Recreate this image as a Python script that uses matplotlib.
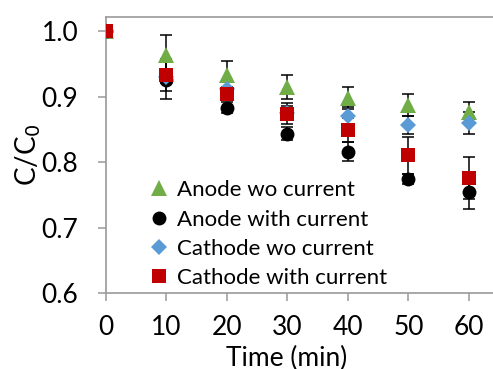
import matplotlib
matplotlib.use("Agg")
import matplotlib.pyplot as plt

plt.rcParams["font.family"] = ["Lato", "DejaVu Sans"]

time_min = [0, 10, 20, 30, 40, 50, 60]

anode_wo = [1.0, 0.963, 0.933, 0.915, 0.898, 0.887, 0.876]
anode_wo_err = [0, 0.031, 0.022, 0.018, 0.017, 0.017, 0.016]

anode_with = [1.0, 0.925, 0.883, 0.843, 0.816, 0.774, 0.755]
anode_with_err = [0, 0.028, 0.008, 0.010, 0.014, 0.008, 0.026]

cathode_wo = [1.0, 0.930, 0.912, 0.875, 0.871, 0.857, 0.860]
cathode_wo_err = [0, 0.010, 0.010, 0.010, 0.013, 0.014, 0.017]

cathode_with = [1.0, 0.933, 0.904, 0.874, 0.849, 0.810, 0.776]
cathode_with_err = [0, 0.025, 0.010, 0.016, 0.019, 0.028, 0.032]

series = [
    ("Anode wo current", anode_wo, anode_wo_err, "^", "#70AD47", 11),
    ("Anode with current", anode_with, anode_with_err, "o", "black", 10),
    ("Cathode wo current", cathode_wo, cathode_wo_err, "D", "#5B9BD5", 8),
    ("Cathode with current", cathode_with, cathode_with_err, "s", "#C00000", 10),
]

fig = plt.figure(figsize=(4.93, 3.69), dpi=100)
ax = fig.add_axes([106 / 493, 1 - 293 / 369, 1 - 106 / 493, (293 - 17) / 369])

for label, y, err, mk, col, ms in series:
    ax.errorbar(time_min, y, yerr=err, fmt="none", ecolor="black",
                elinewidth=1.1, capsize=4.3, capthick=1.1, zorder=2)
    ax.plot(time_min, y, linestyle="none", marker=mk, color=col,
            markersize=ms, markeredgewidth=0, label=label, zorder=3)

ax.set_xlim(0, 64)
ax.set_ylim(0.6, 1.0215)
ax.set_xticks(time_min)
ax.set_yticks([0.6, 0.7, 0.8, 0.9, 1.0])
ax.set_yticklabels(["0.6", "0.7", "0.8", "0.9", "1.0"])

for s in ["left", "bottom", "top"]:
    ax.spines[s].set_color("#999999")
    ax.spines[s].set_linewidth(1.2)
ax.spines["right"].set_visible(False)
ax.tick_params(axis="both", direction="out", length=6, width=1.1,
               color="#999999", labelsize=19, labelcolor="black")
ax.tick_params(axis="x", pad=10)
ax.tick_params(axis="y", pad=14)

ax.set_xlabel("Time (min)", fontsize=19, va="center")
ax.xaxis.set_label_coords((287 - 106) / 387, (293 - 358) / 276)
ax.set_ylabel("C/C$_0$", fontsize=20, labelpad=-1)

ax.legend(loc="lower left", bbox_to_anchor=(0.085, -0.015), frameon=False,
          fontsize=16, handletextpad=0.3, labelspacing=0.42,
          handlelength=1.0, borderaxespad=0)

fig.savefig("out.png", dpi=100)
